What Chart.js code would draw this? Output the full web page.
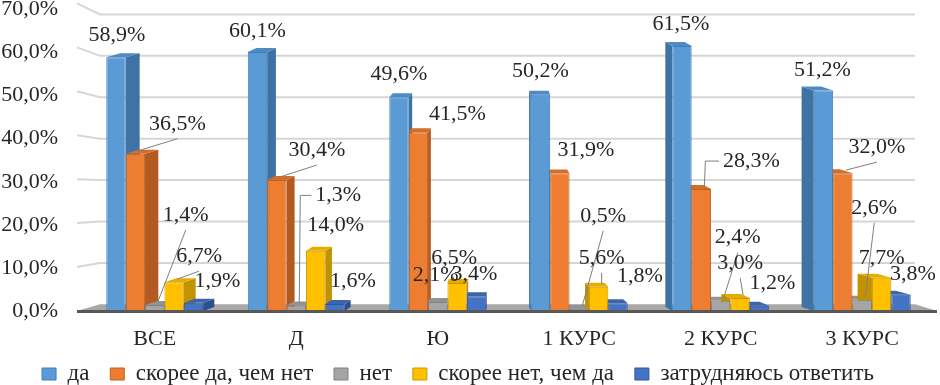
<!DOCTYPE html>
<html><head><meta charset="utf-8">
<script src="https://cdn.jsdelivr.net/npm/chart.js@4/dist/chart.umd.min.js"></script>
<style>html,body{margin:0;padding:0;background:#fff}#wrap{width:940px;height:385px;position:relative}</style>
</head><body><div id="wrap"><canvas id="c" width="940" height="385"></canvas></div>
<script>
// ---- data ----
const categories = ['ВСЕ', 'Д', 'Ю', '1 КУРС', '2 КУРС', '3 КУРС'];
const seriesNames = ['да', 'скорее да, чем нет', 'нет', 'скорее нет, чем да', 'затрудняюсь ответить'];
const da        = [58.9, 60.1, 49.6, 50.2, 61.5, 51.2];
const skoreeDa  = [36.5, 30.4, 41.5, 31.9, 28.3, 32.0];
const net       = [1.4, 1.3, 2.1, 0.5, 2.4, 2.6];
const skoreeNet = [6.7, 14.0, 6.5, 5.6, 3.0, 7.7];
const zatrud    = [1.9, 1.6, 3.4, 1.8, 1.2, 3.8];
const yTicks    = [0, 10, 20, 30, 40, 50, 60, 70];

// ---- styles ----
const FONT = '"Liberation Serif", "Times New Roman", serif';
const TEXT = '#262626';
const fillC = ['#5b9bd5', '#ed7d31', '#a5a5a5', '#ffc000', '#4472c4'];
const edgeC = ['#3b7dbf', '#c0601f', '#808080', '#c99700', '#2f5597'];
const sideC = ['#3f73a6', '#b25a1f', '#7d7d7d', '#c29200', '#2e4f8f'];
const topC  = ['#4f8ac4', '#d46d27', '#939393', '#e6ad00', '#3b64ad'];
Chart.defaults.font.family = FONT;

// label placement relative to bar top centre: [dx, dy, leader]
const labelPlacement = [
  [[1,-22],[0,-21],[0,-23],[0,-23],[-1,-22],[-1,-20]],
  [[42,-30,'line'],[40,-30,'line'],[39,-18],[26,-23],[50,-28,'elbow'],[34,-26,'line']],
  [[31,-90,'line'],[42,-110,'elbow'],[-2,-27],[24,-93,'line'],[17,-63,'line'],[12,-92,'line']],
  [[25,-26,'line'],[20,-25],[-3,-25],[3,-29,'line'],[0,-35,'line'],[0,-20]],
  [[24,-22],[18,-23],[-2,-22],[22,-27],[13,-23],[12,-20]]
];

const seriesValues = [da, skoreeDa, net, skoreeNet, zatrud];
const fmt = v => v.toFixed(1).replace('.', ',') + '%';

const scene = {
  id: 'scene',
  beforeDatasetsDraw(chart) {
    const {ctx, chartArea: a, scales: {y}} = chart;
    const base = y.getPixelForValue(0);
    const yb = py => base - 6.7 - (base - py) * 0.961;
    const bl = a.left + 16, br = a.right - 18, fl = a.left - 7, fr = a.right + 4;
    ctx.save();
    ctx.strokeStyle = '#d6d6d6';
    ctx.lineWidth = 2;
    yTicks.forEach(v => {
      if (v === 0) return;
      const py = y.getPixelForValue(v);
      ctx.beginPath();
      ctx.moveTo(fl, py - 6 * v / 70);
      ctx.lineTo(bl, yb(py));
      ctx.lineTo(br, yb(py));
      ctx.stroke();
    });
    ctx.fillStyle = '#a8a8a8';
    ctx.beginPath();
    ctx.moveTo(bl, yb(base));
    ctx.lineTo(br, yb(base));
    ctx.lineTo(fr, base);
    ctx.lineTo(fl, base);
    ctx.closePath();
    ctx.fill();
    const vx = a.left + 410;
    chart.data.datasets.forEach((ds, i) => {
      const meta = chart.getDatasetMeta(i);
      meta.data.forEach(el => {
        const {x, y: t, base: b, width: w} = el.getProps(['x', 'y', 'base', 'width'], true);
        const l = x - w / 2, r = x + w / 2;
        const dx = 0.037 * (vx - x), dy = -4;
        const sx = dx > 0 ? r : l;
        ctx.fillStyle = sideC[i];
        ctx.beginPath();
        ctx.moveTo(sx, t); ctx.lineTo(sx + dx, t + dy); ctx.lineTo(sx + dx, b + dy); ctx.lineTo(sx, b);
        ctx.closePath(); ctx.fill();
        ctx.fillStyle = topC[i];
        ctx.beginPath();
        ctx.moveTo(l, t); ctx.lineTo(l + dx, t + dy); ctx.lineTo(r + dx, t + dy); ctx.lineTo(r, t);
        ctx.closePath(); ctx.fill();
      });
    });
    ctx.restore();
  },
  afterDatasetsDraw(chart) {
    const {ctx, chartArea: a, scales: {y}} = chart;
    const base = y.getPixelForValue(0);
    ctx.save();
    ctx.strokeStyle = '#595959';
    ctx.lineWidth = 3;
    ctx.beginPath();
    ctx.moveTo(a.left - 7, base + 0.5);
    ctx.lineTo(a.right + 4, base + 0.5);
    ctx.stroke();
    ctx.font = '22px ' + FONT;
    ctx.textAlign = 'center';
    ctx.textBaseline = 'middle';
    chart.data.datasets.forEach((ds, i) => {
      const meta = chart.getDatasetMeta(i);
      meta.data.forEach((el, j) => {
        const {x, y: t} = el.getProps(['x', 'y'], true);
        const p = labelPlacement[i][j];
        const tx = x + p[0], ty = t + p[1];
        const txt = fmt(ds.data[j]);
        ctx.strokeStyle = '#7f7f7f';
        ctx.lineWidth = 1;
        if (p[2] === 'line') {
          ctx.beginPath(); ctx.moveTo(x + 3, t - 3); ctx.lineTo(tx, ty + 15); ctx.stroke();
        } else if (p[2] === 'elbow') {
          const tw = ctx.measureText(txt).width;
          ctx.beginPath(); ctx.moveTo(x + 3, t - 2); ctx.lineTo(x + 4, ty); ctx.lineTo(tx - tw / 2 - 4, ty); ctx.stroke();
        }
        ctx.fillStyle = TEXT;
        ctx.fillText(txt, tx, ty);
      });
    });
    ctx.restore();
  }
};

new Chart(document.getElementById('c'), {
  type: 'bar',
  data: {
    labels: categories,
    datasets: seriesNames.map((n, i) => ({
      label: n,
      data: seriesValues[i],
      backgroundColor: fillC[i],
      borderColor: edgeC[i],
      borderWidth: 1,
      categoryPercentage: 0.685,
      barPercentage: 1
    }))
  },
  options: {
    responsive: false,
    animation: false,
    devicePixelRatio: 1,
    layout: {padding: {top: 9.4, right: 7, left: -17, bottom: 0}},
    plugins: {
      tooltip: {enabled: false},
      legend: {
        position: 'bottom',
        maxHeight: 35,
        title: {display: true, text: '', font: {size: 10, lineHeight: 1.2}, padding: {top: -10, bottom: -10.3}},
        labels: {
          boxWidth: 14, boxHeight: 12, padding: 20.8,
          color: TEXT,
          font: {family: FONT, size: 23}
        }
      }
    },
    scales: {
      x: {
        grid: {display: false, drawTicks: false},
        border: {display: false},
        ticks: {color: TEXT, padding: 17, font: {family: FONT, size: 22, lineHeight: 1}},
        afterFit(s) { s.height = 39; }
      },
      y: {
        min: 0, max: 70,
        grid: {display: false, drawTicks: true, tickLength: 26},
        border: {display: false},
        afterBuildTicks(s) { s.ticks = yTicks.map(v => ({value: v})); },
        ticks: {color: TEXT, padding: 0, font: {family: FONT, size: 22, lineHeight: 0.8},
                callback: v => fmt(v)},
        afterFit(s) { s.width = 101; }
      }
    }
  },
  plugins: [scene]
});
</script></body></html>
